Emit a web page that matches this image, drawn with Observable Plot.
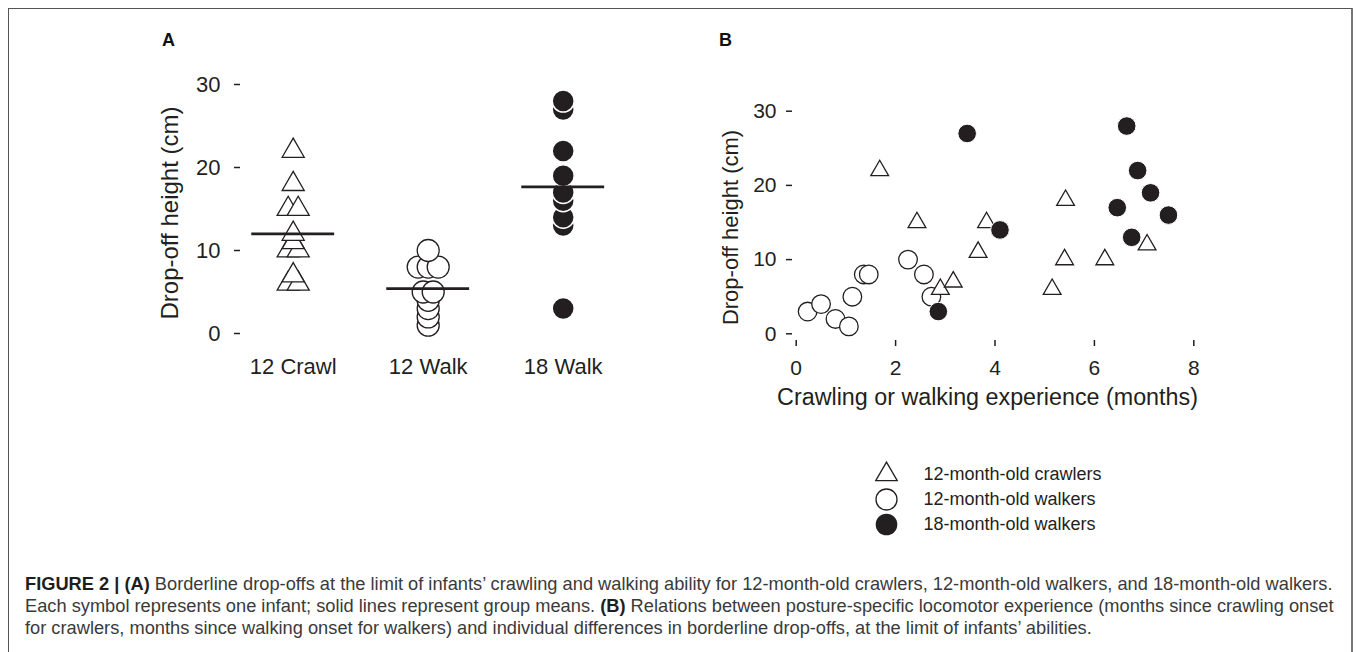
<!DOCTYPE html>
<html><head><meta charset="utf-8">
<script src="https://cdn.jsdelivr.net/npm/d3@7"></script>
<script src="https://cdn.jsdelivr.net/npm/@observablehq/plot@0.6"></script>
<style>
body{margin:0;background:#fff;font-family:"Liberation Sans",Arial,Helvetica,sans-serif;}
#page{position:relative;width:1357px;height:652px;overflow:hidden;background:#fff;}
#frame{position:absolute;left:8px;top:8px;width:1345px;height:700px;border:1px solid #555;border-right:2px solid #777;box-sizing:border-box;}
.abs{position:absolute;}
.plabel{position:absolute;font-weight:bold;font-size:18px;line-height:20px;color:#111;}
#caption{position:absolute;left:25px;top:573px;color:#3a3a3a;white-space:nowrap;line-height:21.8px;font-size:15.6px;}
#caption b{color:#1e1e1e;}
</style></head>
<body>
<div id="page">
  <div id="frame"></div>
  <div class="plabel" style="left:162px;top:30px;">A</div>
  <div class="plabel" style="left:719px;top:30px;">B</div>
  <div id="panelA" class="abs" style="left:0px;top:0px;"></div>
  <div id="panelB" class="abs" style="left:700px;top:0px;"></div>
  <div id="legend" class="abs" style="left:850px;top:450px;"></div>
  <div id="caption">
    <div class="cl"><b>FIGURE 2 | (A)</b> Borderline drop-offs at the limit of infants’ crawling and walking ability for 12-month-old crawlers, 12-month-old walkers, and 18-month-old walkers.</div>
    <div class="cl">Each symbol represents one infant; solid lines represent group means. <b>(B)</b> Relations between posture-specific locomotor experience (months since crawling onset</div>
    <div class="cl">for crawlers, months since walking onset for walkers) and individual differences in borderline drop-offs, at the limit of infants’ abilities.</div>
  </div>
</div>
<script>
// ---- data ----
const groups = ["12 Crawl", "12 Walk", "18 Walk"];
const legendLabels = ["12-month-old crawlers", "12-month-old walkers", "18-month-old walkers"];
const crawlExp = [1.68, 2.43, 2.90, 3.16, 3.66, 3.83, 5.15, 5.42, 5.40, 6.21, 7.06];
const crawlHeight = [22, 15, 6, 7, 11, 15, 6, 18, 10, 10, 12];
const walk12Exp = [0.23, 0.50, 0.79, 1.06, 1.13, 1.36, 1.46, 2.25, 2.57, 2.72];
const walk12Height = [3, 4, 2, 1, 5, 8, 8, 10, 8, 5];
const walk18Exp = [2.86, 3.44, 4.10, 6.46, 6.65, 6.75, 6.87, 7.13, 7.49];
const walk18Height = [3, 27, 14, 17, 28, 13, 22, 19, 16];
const yTicks = [0, 10, 20, 30];
const xTicks = [0, 2, 4, 6, 8];
const yTitle = "Drop-off height (cm)";
const xTitle = "Crawling or walking experience (months)";

const ink = "#231f20";
const font = '"Liberation Sans", Arial, Helvetica, sans-serif';

// ---- panel A rows: sorted ascending, duplicates spread sideways ----
const heightsByGroup = [crawlHeight, walk12Height, walk18Height];
const spreadPx = 10, pxPerGroup = 135;
const rowsA = [];
heightsByGroup.forEach((hs, gi) => {
  const sorted = hs.slice().sort((a, b) => a - b);
  const counts = d3.rollup(sorted, v => v.length, d => d);
  const seen = new Map();
  sorted.forEach(h => {
    const n = counts.get(h), k = seen.get(h) || 0;
    seen.set(h, k + 1);
    rowsA.push({gi, group: groups[gi], height: h, xo: gi + (k - (n - 1) / 2) * spreadPx / pxPerGroup});
  });
});
const means = heightsByGroup.map((hs, gi) => ({gi, mean: d3.mean(hs)}));

const plotA = Plot.plot({
  width: 700, height: 420,
  marginTop: 84, marginBottom: 87, marginLeft: 240, marginRight: 60,
  style: {fontFamily: font, fontSize: "22px", color: ink, background: "transparent", overflow: "visible"},
  x: {domain: [0, 2], range: [292.7, 562.7]},
  y: {domain: [0, 30], range: [333, 84]},
  marks: [
    Plot.axisY({ticks: yTicks, tickSize: 6, tickPadding: 14, label: null, fontSize: 22, strokeWidth: 1.5}),
    Plot.axisX({ticks: [0, 1, 2], tickFormat: i => groups[i], tickSize: 0, tickPadding: 25, label: null, fontSize: 22}),
    Plot.text([yTitle], {text: d => d, frameAnchor: "left", textAnchor: "middle", dx: -70, dy: 4, rotate: -90, fontSize: 24, fill: ink}),
    Plot.dot(rowsA.filter(d => d.gi === 0), {x: "xo", y: "height", symbol: "triangle", r: 8.2, fill: "white", stroke: ink, strokeWidth: 1.3}),
    Plot.dot(rowsA.filter(d => d.gi === 1), {x: "xo", y: "height", symbol: "circle", r: 11, fill: "white", stroke: ink, strokeWidth: 1.3}),
    Plot.dot(rowsA.filter(d => d.gi === 2), {x: "xo", y: "height", symbol: "circle", r: 11, fill: ink, stroke: "white", strokeWidth: 1.5}),
    Plot.ruleY(means, {y: "mean", x1: d => d.gi - 0.307, x2: d => d.gi + 0.307, stroke: ink, strokeWidth: 2.8})
  ]
});
document.getElementById("panelA").appendChild(plotA);

// ---- panel B ----
const crawlRows = crawlExp.map((x, i) => ({x, y: crawlHeight[i]}));
const walk12Rows = walk12Exp.map((x, i) => ({x, y: walk12Height[i]}));
const walk18Rows = walk18Exp.map((x, i) => ({x, y: walk18Height[i]}));

const plotB = Plot.plot({
  width: 657, height: 420,
  marginTop: 100, marginBottom: 80, marginLeft: 92, marginRight: 60,
  style: {fontFamily: font, fontSize: "21px", color: ink, background: "transparent", overflow: "visible"},
  x: {domain: [0, 8], range: [95.7, 493.3]},
  y: {domain: [0, 30], range: [333.3, 110.7]},
  marks: [
    Plot.axisY({ticks: yTicks, tickSize: 6, tickPadding: 10, label: null, fontSize: 21, strokeWidth: 1.5}),
    Plot.axisX({ticks: xTicks, tickSize: 6, tickPadding: 14, label: null, fontSize: 21, strokeWidth: 1.5}),
    Plot.text([yTitle], {text: d => d, frameAnchor: "left", textAnchor: "middle", dx: -62, dy: 7, rotate: -90, fontSize: 22, fill: ink}),
    Plot.text([xTitle], {text: d => d, frameAnchor: "bottom", textAnchor: "middle", dx: -57.5, dy: 64, fontSize: 23.3, fill: ink}),
    Plot.dot(walk12Rows, {x: "x", y: "y", symbol: "circle", r: 9.3, fill: "white", stroke: ink, strokeWidth: 1.3}),
    Plot.dot(crawlRows, {x: "x", y: "y", symbol: "triangle", r: 6.6, fill: "white", stroke: ink, strokeWidth: 1.3}),
    Plot.dot(walk18Rows, {x: "x", y: "y", symbol: "circle", r: 9.3, fill: ink, stroke: "white", strokeWidth: 1})
  ]
});
document.getElementById("panelB").appendChild(plotB);

// ---- legend ----
const legendRows = legendLabels.map((label, i) => ({label, i}));
const plotL = Plot.plot({
  width: 320, height: 100, margin: 0,
  style: {fontFamily: font, fontSize: "18px", color: ink, background: "transparent", overflow: "visible"},
  y: {domain: legendLabels, type: "point", padding: 0, range: [24, 74], axis: null},
  marks: [
    Plot.dot(legendRows.filter(d => d.i === 0), {y: "label", frameAnchor: "left", dx: 36, symbol: "triangle", r: 8, fill: "white", stroke: ink, strokeWidth: 1.3}),
    Plot.dot(legendRows.filter(d => d.i === 1), {y: "label", frameAnchor: "left", dx: 36, symbol: "circle", r: 10.5, fill: "white", stroke: ink, strokeWidth: 1.3}),
    Plot.dot(legendRows.filter(d => d.i === 2), {y: "label", frameAnchor: "left", dx: 36, symbol: "circle", r: 10.8, fill: ink}),
    Plot.text(legendRows, {y: "label", text: "label", frameAnchor: "left", dx: 73, textAnchor: "start", fontSize: 18, fill: ink})
  ]
});
document.getElementById("legend").appendChild(plotL);

// ---- fit caption line 1 to its width in the reference ----
const lines = document.querySelectorAll("#caption .cl");
const w1 = lines[0].getBoundingClientRect().width;
const cap = document.getElementById("caption");
const fs = parseFloat(getComputedStyle(cap).fontSize);
cap.style.fontSize = (fs * 1308 / w1).toFixed(2) + "px";
</script>
</body></html>
